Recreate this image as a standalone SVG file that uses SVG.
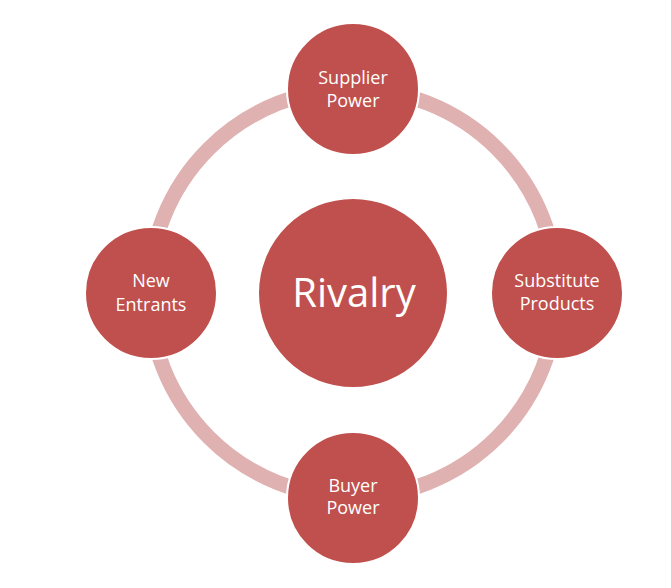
<svg xmlns="http://www.w3.org/2000/svg" width="671" height="588" viewBox="0 0 671 588">
<style>
.node{fill:#c0504d;stroke:#ffffff;stroke-width:2}
.lbl{font-family:"Open Sans","Liberation Sans",sans-serif;font-size:18px;fill:#ffffff;text-anchor:middle}
.big{font-size:40px}
</style>
<rect width="671" height="588" fill="#ffffff"/>
<g id="connectors">
<circle cx="353" cy="293" r="204" fill="none" stroke="#ffffff" stroke-width="18"/>
<circle cx="353" cy="293" r="204" fill="none" stroke="#dfb1b0" stroke-width="15"/>
</g>
<g id="supplier">
<circle class="node" cx="353" cy="89" r="66"/>
<text class="lbl" x="353" y="84">Supplier</text>
<text class="lbl" x="353" y="107">Power</text>
</g>
<g id="entrants">
<circle class="node" cx="151" cy="293" r="66"/>
<text class="lbl" x="151" y="287">New</text>
<text class="lbl" x="151" y="311">Entrants</text>
</g>
<g id="substitute">
<circle class="node" cx="557" cy="293" r="66"/>
<text class="lbl" x="557" y="287">Substitute</text>
<text class="lbl" x="557" y="310">Products</text>
</g>
<g id="buyer">
<circle class="node" cx="353" cy="498" r="66"/>
<text class="lbl" x="353" y="492">Buyer</text>
<text class="lbl" x="353" y="514">Power</text>
</g>
<g id="rivalry">
<circle class="node" cx="353" cy="293" r="95"/>
<text class="lbl big" x="354" y="307">Rivalry</text>
</g>
</svg>
